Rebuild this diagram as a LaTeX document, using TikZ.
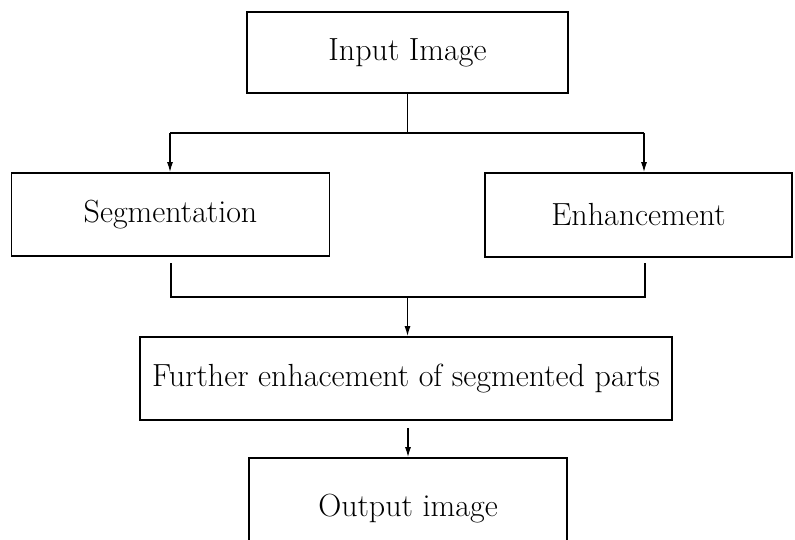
\documentclass[tikz,border=0pt]{standalone}
\usetikzlibrary{arrows.meta}
\begin{document}
\begin{tikzpicture}[x=0.5pt,y=-0.5pt,
  box/.style={draw,line width=0.9pt,inner sep=0pt,font=\fontsize{16}{19}\selectfont},
  link/.style={line width=0.8pt},
  arr/.style={line width=0.6pt,-{Latex[length=5pt,width=3pt]}}]
\useasboundingbox (0,0) rectangle (795,539);
% process boxes
\node[box,minimum width=160.5pt,minimum height=40.5pt] (in)  at (407.5,52.5) {Input Image};
\node[box,minimum width=159pt,minimum height=41.5pt]   (seg) at (170.5,214.5) {Segmentation};
\node[box,minimum width=153.5pt,minimum height=42pt]   (enh) at (638.5,215) {Enhancement};
\node[box,minimum width=266pt,minimum height=41.5pt]   (fur) at (406,378.5) {Further enhacement of segmented parts};
\node[box,minimum width=159pt,minimum height=51pt]     (out) at (408,509) {Output image};
% split from the input
\coordinate (hub) at (407.5,133);
\coordinate (sl) at (170,133);
\coordinate (sr) at (644,133);
\draw[link] (in.south) -- (hub);
\draw[link] (sl) -- (sr);
\draw[arr] (sl) -- (sl |- seg.north);
\draw[arr] (sr) -- (sr |- enh.north);
% merge of both branches
\coordinate (ml) at (171,263);
\coordinate (mr) at (645,263);
\coordinate (mj) at (407.5,297);
\draw[link] (ml) -- (171,297) -- (645,297) -- (mr);
\draw[arr] (mj) -- (mj |- fur.north);
% towards the output
\coordinate (os) at (408,428);
\draw[arr] (os) -- (os |- out.north);
\end{tikzpicture}
\end{document}
